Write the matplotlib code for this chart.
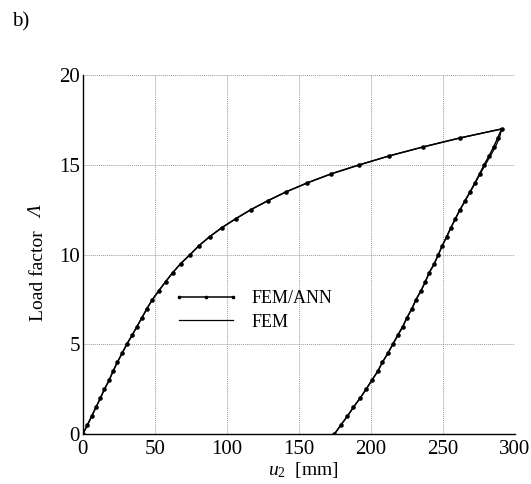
import matplotlib
matplotlib.use("Agg")
import matplotlib.pyplot as plt
import numpy as np

# ---- data ----
# FEM/ANN : loading branch (u2 [mm], load factor)
ann_load_u = [0, 3.2, 6.2, 9.2, 12.2, 15.0, 18.3, 21.0, 24.0, 27.3, 30.5, 34.2, 37.7,
              41.2, 44.6, 48.4, 52.9, 57.6, 62.5, 68.0, 74.5, 80.7, 88.1, 96.5, 106.2,
              116.6, 128.4, 141.3, 156.0, 172.5, 192.0, 212.8, 236.4, 262.0, 290.8]
ann_load_L = [0, 0.5, 1.0, 1.5, 2.0, 2.5, 3.0, 3.5, 4.0, 4.5, 5.0, 5.5, 6.0, 6.5, 7.0,
              7.5, 8.0, 8.5, 9.0, 9.5, 10.0, 10.5, 11.0, 11.5, 12.0, 12.5, 13.0, 13.5,
              14.0, 14.5, 15.0, 15.5, 16.0, 16.5, 17.0]
# FEM/ANN : unloading branch
ann_unload_u = [288.0, 285.2, 282.0, 278.6, 275.4, 272.2, 268.8, 265.3, 261.8, 258.6,
                255.5, 252.6, 249.5, 246.8, 244.0, 240.5, 237.8, 234.8, 231.3, 228.5,
                225.1, 222.1, 218.6, 215.1, 211.7, 207.9, 204.7, 200.6, 196.6, 192.4,
                187.8, 183.6, 179.0, 174.6]
ann_unload_L = [16.5, 16.0, 15.5, 15.0, 14.5, 14.0, 13.5, 13.0, 12.5, 12.0, 11.5, 11.0,
                10.5, 10.0, 9.5, 9.0, 8.5, 8.0, 7.5, 7.0, 6.5, 6.0, 5.5, 5.0, 4.5, 4.0,
                3.5, 3.0, 2.5, 2.0, 1.5, 1.0, 0.5, 0.0]

# FEM : loading + unloading
fem_u = ann_load_u + [289.2, 286.4, 283.0, 279.3, 275.9, 272.5, 269.0, 265.4, 261.9,
                      258.6, 255.5, 252.6, 249.5, 246.8, 244.0, 240.5, 237.8, 234.8,
                      231.3, 228.5, 225.1, 222.1, 218.6, 215.1, 211.7, 207.9, 204.7,
                      200.6, 196.6, 192.4, 187.8, 183.6, 179.0, 174.6]
fem_L = ann_load_L + ann_unload_L

ann_u = ann_load_u + ann_unload_u
ann_L = ann_load_L + ann_unload_L

xticks = [0, 50, 100, 150, 200, 250, 300]
yticks = [0, 5, 10, 15, 20]

# ---- style ----
plt.rcParams['font.family'] = ['Liberation Serif', 'DejaVu Serif']
plt.rcParams['mathtext.fontset'] = 'custom'
plt.rcParams['mathtext.rm'] = 'Liberation Serif'
plt.rcParams['mathtext.it'] = 'Liberation Serif:italic'

fig = plt.figure(figsize=(5.31, 4.84), dpi=100)
ax = fig.add_axes([0.1557, 0.1027, 0.8142, 0.7423])

ax.plot(ann_u, ann_L, color='black', lw=1.1, marker='o', ms=3.3,
        markeredgewidth=0, label='FEM/ANN', zorder=3)
ax.plot(fem_u, fem_L, color='black', lw=0.9, label='FEM', zorder=2)

ax.set_xlim(0, 300)
ax.set_ylim(0, 20)
ax.set_xticks(xticks)
ax.set_yticks(yticks)
ax.tick_params(length=0, labelsize=15)
ax.tick_params(axis='x', pad=4)
ax.tick_params(axis='y', pad=2)
ax.grid(True, color='#9a9a9a', linestyle=(0, (1, 1)), lw=0.7)
for s in ['top', 'right']:
    ax.spines[s].set_visible(False)
for s in ['left', 'bottom']:
    ax.spines[s].set_linewidth(1.0)

ax.set_xlabel(r'$u_2$  [mm]', fontsize=14)
ax.xaxis.set_label_coords(0.51, -0.072)
ax.xaxis.label.set_va('top')

ax.set_ylabel('Load factor', fontsize=14)
ax.yaxis.set_label_coords(-0.083, 0.443)
ax.text(-0.083, 0.619, 'Λ', fontsize=14, style='italic', rotation=90,
        rotation_mode='anchor', ha='center', va='bottom', transform=ax.transAxes)

ax.legend(loc='center left', bbox_to_anchor=(0.21, 0.345), frameon=False,
          fontsize=13, handlelength=3.6, handletextpad=0.7, labelspacing=0.35,
          numpoints=3, borderpad=0, borderaxespad=0, markerscale=0.8)

fig.text(0.022, 0.955, 'b)', fontsize=15, va='center', ha='left')

fig.savefig('out.png', dpi=100)
